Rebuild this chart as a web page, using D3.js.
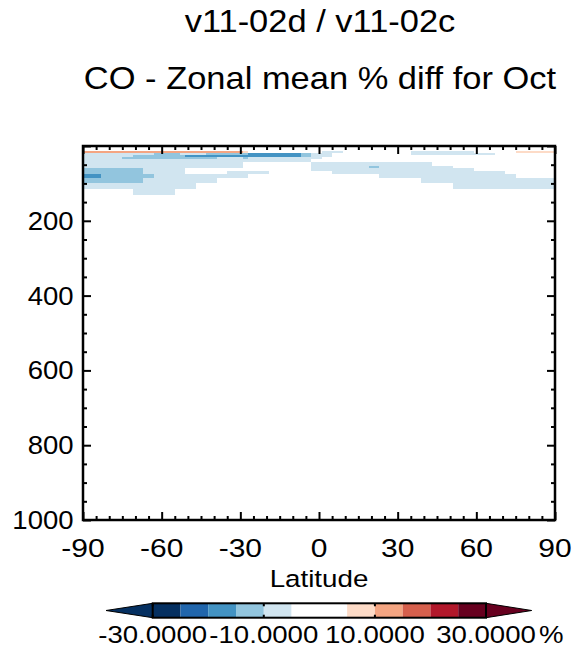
<!DOCTYPE html>
<html>
<head>
<meta charset="utf-8">
<script src="https://cdn.jsdelivr.net/npm/d3@7"></script>
<style>
  html, body { margin: 0; padding: 0; background: #ffffff; }
  svg { display: block; }
  text { font-family: "Liberation Sans", Arial, Helvetica, sans-serif; fill: #000; }
</style>
</head>
<body>
<div id="chart"></div>
<script>
// ---------------- data ----------------
const titleLine1 = "v11-02d / v11-02c";
const titleLine2 = "CO - Zonal mean % diff for Oct";
const xAxisTitle = "Latitude";
const latTicks = [-90, -60, -30, 0, 30, 60, 90];
const pressureTicks = [200, 400, 600, 800, 1000];

// colour levels (% difference) and their fills
const levels = [-30, -25, -20, -15, -10, -5, 0, 5, 10, 15, 20, 25, 30];
const levelColors = ["#053061", "#2166ac", "#4393c3", "#92c5de", "#d1e5f0", "#ffffff",
                     "#ffffff", "#fddbc7", "#f4a582", "#d6604d", "#b2182b", "#67001f"];
const underColor = "#053061";
const overColor = "#67001f";
const colorbarTickValues = [-30, -10, 10, 30];
const colorbarTickLabels = ["-30.0000", "-10.0000", "10.0000", "30.0000"];
const colorbarUnit = "%";

// pressure layer edges (hPa), one row of cells between consecutive edges
const pressureEdges = [14, 18, 23, 29, 35, 44, 53, 59, 67, 75, 85, 98, 114, 131];

// per pressure layer: runs of latitude cells [lat start, lat end, % diff]
const rowRuns = [
  [[-90, -29, 12], [-29, -27, 7], [1, 9, -7], [35, 59, -7], [75, 90, 7]],
  [[-90, -63, -7], [-63, -53, -12], [-53, -43, -7], [-43, -27, -12], [-27, -7, -17], [-7, -3, -12], [-3, 5, -7], [35, 67, -7]],
  [[-90, -71, -7], [-71, -51, -12], [-51, -7, -17], [-7, -3, -12], [-3, 5, -7]],
  [[-90, -75, -7], [-75, -39, -12], [-39, -29, -7], [-29, -27, -12], [-27, 1, -7]],
  [[-90, -3, -7]],
  [[-90, -29, -7], [-3, 43, -7]],
  [[-90, -29, -7], [-3, 19, -7], [19, 23, -12], [23, 51, -7]],
  [[-90, -67, -12], [-67, -51, -7], [-3, 59, -7]],
  [[-90, -67, -12], [-67, -51, -7], [-35, -19, -7], [5, 71, -7]],
  [[-90, -83, -17], [-83, -63, -12], [-63, -27, -7], [23, 75, -7]],
  [[-90, -67, -12], [-67, -39, -7], [39, 90, -7]],
  [[-90, -47, -7], [51, 90, -7]],
  [[-71, -55, -7]]
];

// ---------------- drawing ----------------
const W = 584, H = 653;
const svg = d3.select("#chart").append("svg").attr("width", W).attr("height", H);
svg.append("rect").attr("width", W).attr("height", H).attr("fill", "#fff");

const plot = { left: 83, right: 555, top: 146, bottom: 520 };
const x = d3.scaleLinear().domain([-90, 90]).range([plot.left, plot.right]);
const y = d3.scaleLinear().domain([0, 1000]).range([plot.top, plot.bottom]);
const color = d3.scaleThreshold().domain(levels.slice(1, -1)).range(levelColors);

function label(g, px, py, s, size, sx, anchor) {
  g.append("text")
    .attr("transform", `translate(${px},${py}) scale(${sx},1)`)
    .attr("text-anchor", anchor)
    .style("font-size", size + "px")
    .text(s);
}

// titles
label(svg, 320, 31.5, titleLine1, 30.5, 1.13, "middle");
label(svg, 320, 89, titleLine2, 30.5, 1.13, "middle");

// cells
const cells = [];
rowRuns.forEach((runs, i) => {
  runs.forEach(r => cells.push({ lat0: r[0], lat1: r[1], p0: pressureEdges[i], p1: pressureEdges[i + 1], v: r[2] }));
});
svg.append("g").selectAll("rect").data(cells).join("rect")
  .attr("x", d => x(d.lat0))
  .attr("y", d => y(d.p0))
  .attr("width", d => x(d.lat1) - x(d.lat0))
  .attr("height", d => y(d.p1) - y(d.p0))
  .attr("fill", d => color(d.v))
  .attr("shape-rendering", "crispEdges");

// axes ticks (inward)
const latMinor = d3.range(-90, 91, 5).filter(v => v % 30 !== 0);
const pMinor = d3.range(0, 1001, 50).filter(v => v % 200 !== 0);
const pMajor = [0].concat(pressureTicks);
const tickW = 2;

function ticks(axisGen, tr) {
  const g = svg.append("g").attr("transform", tr).call(axisGen);
  g.select(".domain").remove();
  g.selectAll("line").attr("stroke", "#000").attr("stroke-width", tickW);
  g.selectAll("text").remove();
}
ticks(d3.axisBottom(x).tickValues(latTicks).tickSize(-8), `translate(0,${plot.bottom})`);
ticks(d3.axisBottom(x).tickValues(latMinor).tickSize(-4), `translate(0,${plot.bottom})`);
ticks(d3.axisTop(x).tickValues(latTicks).tickSize(-8), `translate(0,${plot.top})`);
ticks(d3.axisTop(x).tickValues(latMinor).tickSize(-4), `translate(0,${plot.top})`);
ticks(d3.axisLeft(y).tickValues(pMajor).tickSize(-8), `translate(${plot.left},0)`);
ticks(d3.axisLeft(y).tickValues(pMinor).tickSize(-4), `translate(${plot.left},0)`);
ticks(d3.axisRight(y).tickValues(pMajor).tickSize(-8), `translate(${plot.right},0)`);
ticks(d3.axisRight(y).tickValues(pMinor).tickSize(-4), `translate(${plot.right},0)`);

// frame
svg.append("rect")
  .attr("x", plot.left).attr("y", plot.top)
  .attr("width", plot.right - plot.left).attr("height", plot.bottom - plot.top)
  .attr("fill", "none").attr("stroke", "#000").attr("stroke-width", 2.5);

// tick labels
latTicks.forEach(v => label(svg, x(v), 556.5, String(v), 25, 1.2, "middle"));
pressureTicks.forEach(v => label(svg, 73.5, y(v) + 9, String(v), 25, 1.1, "end"));
label(svg, 319, 586.5, xAxisTitle, 23.5, 1.18, "middle");

// colorbar
const cb = { left: 152.7, right: 486, top: 603.3, bottom: 617.7, tipL: 106, tipR: 531.7 };
const cx = d3.scaleLinear().domain([levels[0], levels[levels.length - 1]]).range([cb.left, cb.right]);
const cbg = svg.append("g");
const midY = (cb.top + cb.bottom) / 2;
cbg.append("path")
  .attr("d", `M${cb.tipL},${midY}L${cx(levels[0])},${cb.top}L${cx(levels[0])},${cb.bottom}Z`)
  .attr("fill", underColor).attr("stroke", "#000").attr("stroke-width", 1);
cbg.append("path")
  .attr("d", `M${cb.tipR},${midY}L${cx(levels[levels.length - 1])},${cb.top}L${cx(levels[levels.length - 1])},${cb.bottom}Z`)
  .attr("fill", overColor).attr("stroke", "#000").attr("stroke-width", 1);
cbg.selectAll("rect.seg").data(levelColors).join("rect")
  .attr("class", "seg")
  .attr("x", (d, i) => cx(levels[i]))
  .attr("y", cb.top)
  .attr("width", (d, i) => cx(levels[i + 1]) - cx(levels[i]))
  .attr("height", cb.bottom - cb.top)
  .attr("fill", d => d);
cbg.append("rect")
  .attr("x", cb.left).attr("y", cb.top)
  .attr("width", cb.right - cb.left).attr("height", cb.bottom - cb.top)
  .attr("fill", "none").attr("stroke", "#000").attr("stroke-width", 2);
colorbarTickValues.forEach(v => {
  cbg.append("line").attr("x1", cx(v)).attr("x2", cx(v)).attr("y1", cb.top).attr("y2", cb.top + 3)
    .attr("stroke", "#000").attr("stroke-width", 2);
  cbg.append("line").attr("x1", cx(v)).attr("x2", cx(v)).attr("y1", cb.bottom - 3).attr("y2", cb.bottom)
    .attr("stroke", "#000").attr("stroke-width", 2);
});
colorbarTickValues.forEach((v, i) => label(svg, cx(v), 642.5, colorbarTickLabels[i], 24, 1.15, "middle"));
label(svg, 539, 642.5, colorbarUnit, 24, 1.15, "start");
</script>
</body>
</html>
